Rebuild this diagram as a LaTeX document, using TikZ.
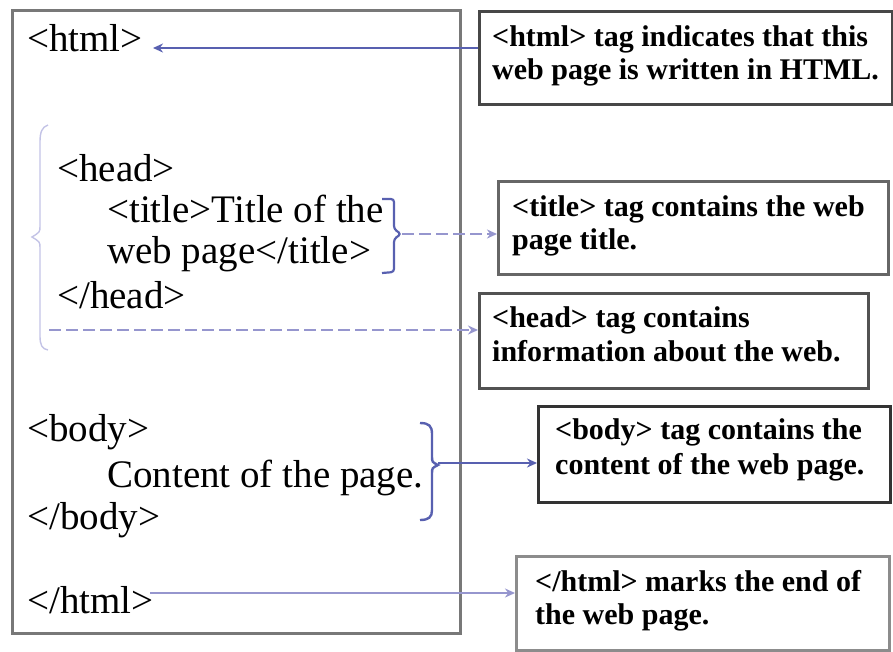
\documentclass[tikz,border=0pt]{standalone}
\usepackage{fontspec}
\setmainfont{Liberation Serif}
\usetikzlibrary{arrows.meta}
\definecolor{linkblue}{RGB}{88,96,176}
\definecolor{lav}{RGB}{150,150,206}
\definecolor{lavlight}{RGB}{195,195,230}
\definecolor{frame}{RGB}{120,120,120}
\tikzset{
  code/.style={font=\fontsize{39}{41}\selectfont, inner sep=0pt, anchor=base west},
  note/.style={font=\bfseries\fontsize{30}{33}\selectfont, inner sep=0pt, anchor=base west},
  notebox/.style={draw=#1, line width=3pt, anchor=north west, inner sep=0pt},
  mainbox/.style={draw=frame, line width=3pt, anchor=north west, inner sep=0pt},
  tip/.style={-{Stealth[length=10pt,width=9pt]}},
  bluelink/.style={draw=linkblue, line width=2.6pt},
  lavlink/.style={draw=lav, line width=2.4pt},
  lavdash/.style={draw=lav, line width=2.2pt, dash pattern=on 12pt off 5pt},
}
\begin{document}
\begin{tikzpicture}[x=1pt,y=-1pt]
\useasboundingbox (0,0) rectangle (893,651);
% main page box
\node[mainbox, minimum width=448pt, minimum height=623pt] (page) at (11,9) {};
% code lines
\node[code] (html1) at (27,51) {<html>};
\node[code] (head1) at (57,181) {<head>};
\node[code] (title1) at (107,222) {<title>Title of the};
\node[code] (title2) at (107,263) {web page</title>};
\node[code] (head2) at (57,308) {</head>};
\node[code] (body1) at (27,441) {<body>};
\node[code] (body2) at (107,487) {Content of the page.};
\node[code] (body3) at (27,529) {</body>};
\node[code] (html2) at (27,613) {</html>};
% note boxes
\node[notebox={black!72}, minimum width=413pt, minimum height=93pt] (box1) at (478,10) {};
\node[notebox={black!60}, minimum width=390pt, minimum height=93pt] (box2) at (497,180) {};
\node[notebox={black!68}, minimum width=389pt, minimum height=95pt] (box3) at (478,292) {};
\node[notebox={black!80}, minimum width=352pt, minimum height=96pt] (box4) at (537,405) {};
\node[notebox={black!45}, minimum width=373pt, minimum height=94pt] (box5) at (515,555) {};
% note texts
\node[note] (n1a) at (492,46) {<html> tag indicates that this};
\node[note] (n1b) at (492,79) {web page is written in HTML.};
\node[note] (n2a) at (512,216) {<title> tag contains the web};
\node[note] (n2b) at (512,249) {page title.};
\node[note] (n3a) at (492,327) {<head> tag contains};
\node[note] (n3b) at (492,361) {information about the web.};
\node[note] (n4a) at (555,439) {<body> tag contains the};
\node[note] (n4b) at (555,474) {content of the web page.};
\node[note] (n5a) at (535,591) {</html> marks the end of};
\node[note] (n5b) at (535,624) {the web page.};
% braces
\draw[draw=linkblue, line width=2.2pt, rounded corners=3pt]
  (382,199) -- (394,199) -- (394,229) -- (401,234) -- (394,239) -- (394,272) -- (382,273);
\draw[draw=linkblue, line width=2.4pt]
  (420,423) .. controls (429,423) and (432,426) .. (432,434) -- (432,456)
  .. controls (432,462) .. (438,465) .. controls (432,468) .. (432,474)
  -- (432,510) .. controls (432,517) and (429,520) .. (420,520);
\draw[draw=lavlight, line width=1.4pt]
  (48,125) .. controls (42,127) and (40,132) .. (40,142) -- (40,226)
  .. controls (40,232) .. (32,237) .. controls (40,242) .. (40,248)
  -- (40,336) .. controls (40,345) and (42,349) .. (48,350);
% connectors
\coordinate (c1) at (153,48);
\draw[bluelink, tip] (c1 -| box1.west) -- (c1);
\coordinate (c2) at (402,234);
\draw[lavdash, tip] (c2) -- (c2 -| box2.west);
\coordinate (c3) at (49,330);
\draw[lavdash, tip] (c3) -- (c3 -| box3.west);
\coordinate (c4) at (438,463);
\draw[bluelink, tip] (c4) -- (c4 -| box4.west);
\coordinate (c5) at (150,593);
\draw[lavlink, tip] (c5) -- (c5 -| box5.west);
\end{tikzpicture}
\end{document}
